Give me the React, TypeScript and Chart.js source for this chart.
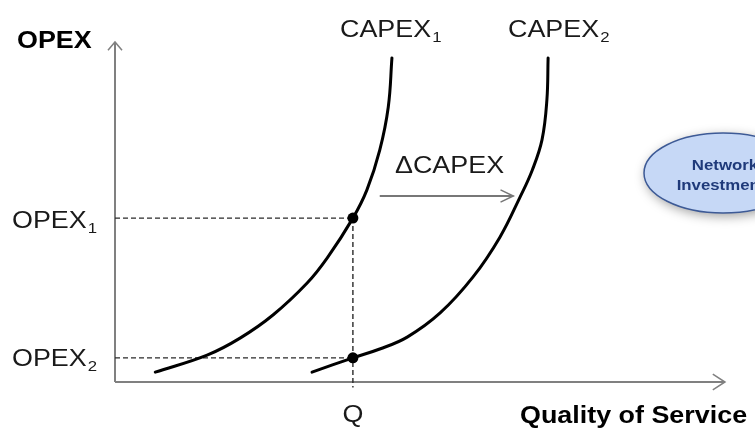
import React, { useEffect, useRef } from "react";
import { Chart, registerables } from "chart.js";

Chart.register(...registerables);

// Data (axis units: 0..100 on both axes)
const curve1X = [6.6, 15.1, 20.5, 25.9, 31.5, 34.8, 39.0, 41.3, 43.4, 44.8, 45.4];
const curve1Y = [2.9, 7.9, 12.9, 19.7, 29.1, 36.5, 48.2, 56.5, 68.2, 80.9, 95.3];
const curve2X = [32.3, 39.0, 43.4, 47.9, 53.3, 58.7, 63.1, 66.4, 68.4, 70.0, 70.8, 71.0];
const curve2Y = [2.9, 7.1, 9.7, 13.2, 20.3, 30.9, 42.6, 54.4, 62.3, 71.2, 82.9, 95.3];
const Q = 39.0;
const OPEX1 = 48.2;
const OPEX2 = 7.1;
const deltaFrom = 43.4;
const deltaTo = 65.3;
const deltaLevel = 54.7;

const curveLabels = ["CAPEX", "CAPEX"];
const curveSubs = ["1", "2"];
const opexLabels = ["OPEX", "OPEX"];
const opexSubs = ["1", "2"];

const pts = (xs: number[], ys: number[]) => xs.map((x, i) => ({ x, y: ys[i] }));

const SX = 1.12;
const FONT = '"Liberation Sans", Arial, sans-serif';

function txt(
  ctx: CanvasRenderingContext2D,
  s: string,
  x: number,
  y: number,
  size: number,
  color: string,
  bold = false,
  align: "left" | "center" = "left"
): number {
  ctx.save();
  ctx.font = `${bold ? "bold " : ""}${size}px ${FONT}`;
  ctx.fillStyle = color;
  ctx.textBaseline = "alphabetic";
  const w = ctx.measureText(s).width * SX;
  const left = align === "center" ? x - w / 2 : x;
  ctx.translate(left, y);
  ctx.scale(SX, 1);
  ctx.textAlign = "left";
  ctx.fillText(s, 0, 0);
  ctx.restore();
  return left + w;
}

const textPlugin = {
  id: "diagramText",
  afterDatasetsDraw(chart: any) {
    const ctx: CanvasRenderingContext2D = chart.ctx;
    const xs = chart.scales.x;
    const ys = chart.scales.y;
    const dark = "#1a1a1a";

    // axis titles
    txt(ctx, "OPEX", 17, 48, 24, "#000", true);
    txt(ctx, "Quality of Service", 520, 423, 24, "#000", true);

    // curve labels
    let e = txt(ctx, curveLabels[0], 340, 37, 24, dark);
    txt(ctx, curveSubs[0], e + 1, 42, 15, dark);
    e = txt(ctx, curveLabels[1], 508, 37, 24, dark);
    txt(ctx, curveSubs[1], e + 1, 42, 15, dark);

    // delta capex
    txt(ctx, "ΔCAPEX", 395, 173, 24, dark);

    // opex levels
    const y1 = ys.getPixelForValue(OPEX1);
    const y2 = ys.getPixelForValue(OPEX2);
    e = txt(ctx, opexLabels[0], 12, y1 + 10, 24, dark);
    txt(ctx, opexSubs[0], e + 1, y1 + 15, 15, dark);
    e = txt(ctx, opexLabels[1], 12, y2 + 8, 24, dark);
    txt(ctx, opexSubs[1], e + 1, y2 + 13, 15, dark);

    // Q
    txt(ctx, "Q", xs.getPixelForValue(Q), 422, 24, dark, false, "center");

    // Network Investment bubble
    ctx.save();
    ctx.beginPath();
    ctx.ellipse(723, 173, 79, 40, 0, 0, Math.PI * 2);
    ctx.shadowColor = "rgba(0,0,0,0.4)";
    ctx.shadowBlur = 12;
    ctx.shadowOffsetX = 2;
    ctx.shadowOffsetY = 3;
    ctx.fillStyle = "#c6d8f6";
    ctx.fill();
    ctx.shadowColor = "transparent";
    ctx.lineWidth = 1.5;
    ctx.strokeStyle = "#3d5a96";
    ctx.stroke();
    ctx.restore();
    txt(ctx, "Network", 725, 170, 15, "#1f3a7a", true, "center");
    txt(ctx, "Investment", 721, 190, 15, "#1f3a7a", true, "center");
  },
};

export default function App() {
  const ref = useRef<HTMLCanvasElement | null>(null);

  useEffect(() => {
    if (!ref.current) return;
    const axisColor = "#808080";
    const dashColor = "#2a2a2a";
    const line = (data: any[], color: string, width: number, dash: number[] = [], extra: any = {}) => ({
      data,
      showLine: true,
      borderColor: color,
      borderWidth: width,
      borderDash: dash,
      pointRadius: 0,
      clip: false as any,
      ...extra,
    });
    const chart = new Chart(ref.current, {
      type: "scatter",
      data: {
        datasets: [
          {
            data: [
              { x: Q, y: OPEX1 },
              { x: Q, y: OPEX2 },
            ],
            pointRadius: 5.5,
            pointBackgroundColor: "#000",
            pointBorderWidth: 0,
            showLine: false,
            clip: false as any,
          },
          line(pts(curve1X, curve1Y), "#000", 3, [], { tension: 0.4, borderCapStyle: "round" }),
          line(pts(curve2X, curve2Y), "#000", 3, [], { tension: 0.4, borderCapStyle: "round" }),
          line([{ x: 0, y: OPEX1 }, { x: Q, y: OPEX1 }], dashColor, 1.4, [5, 3]),
          line([{ x: 0, y: OPEX2 }, { x: Q, y: OPEX2 }], dashColor, 1.4, [5, 3]),
          line([{ x: Q, y: OPEX1 }, { x: Q, y: -1.6 }], dashColor, 1.4, [5, 3]),
          // delta arrow
          line([{ x: deltaFrom, y: deltaLevel }, { x: deltaTo, y: deltaLevel }], "#777", 2),
          line(
            [
              { x: deltaTo - 2.1, y: deltaLevel + 1.8 },
              { x: deltaTo, y: deltaLevel },
              { x: deltaTo - 2.1, y: deltaLevel - 1.8 },
            ],
            "#777",
            1.5
          ),
          // axes
          line([{ x: 0, y: 0 }, { x: 0, y: 100 }], axisColor, 2),
          line(
            [
              { x: -1.15, y: 97.6 },
              { x: 0, y: 100 },
              { x: 1.15, y: 97.6 },
            ],
            axisColor,
            1.5
          ),
          line([{ x: 0, y: 0 }, { x: 100, y: 0 }], axisColor, 2),
          line(
            [
              { x: 98.0, y: 2.35 },
              { x: 100, y: 0 },
              { x: 98.0, y: -2.35 },
            ],
            axisColor,
            1.5
          ),
        ],
      },
      options: {
        animation: false,
        responsive: false,
        events: [],
        layout: { padding: { left: 115, right: 30, top: 42, bottom: 48 } },
        plugins: { legend: { display: false }, tooltip: { enabled: false } },
        scales: {
          x: { type: "linear", min: 0, max: 100, display: false },
          y: { type: "linear", min: 0, max: 100, display: false },
        },
      },
      plugins: [textPlugin],
    });
    return () => chart.destroy();
  }, []);

  return (
    <div style={{ position: "absolute", left: 0, top: 0, width: 755, height: 430, background: "#fff" }}>
      <canvas ref={ref} width={755} height={430} style={{ width: 755, height: 430 }} />
    </div>
  );
}
